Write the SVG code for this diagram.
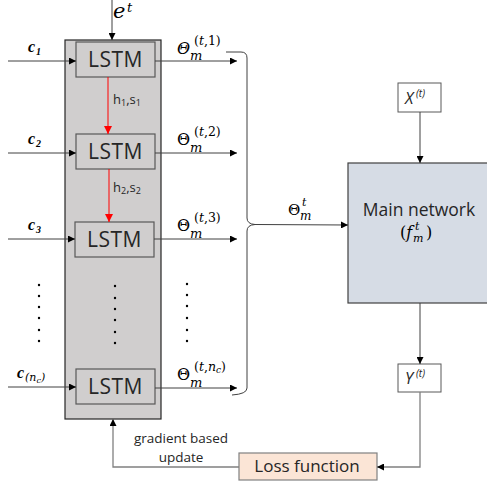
<svg xmlns="http://www.w3.org/2000/svg" width="487" height="484" viewBox="0 0 487 484">
<defs>
<marker id="ah" viewBox="0 0 10 10" refX="10" refY="5" markerWidth="7" markerHeight="7" markerUnits="userSpaceOnUse" orient="auto"><path d="M0,0 L10,5 L0,10 z" fill="#000"/></marker>
<marker id="ahr" viewBox="0 0 10 10" refX="10" refY="5" markerWidth="8" markerHeight="8" markerUnits="userSpaceOnUse" orient="auto"><path d="M0,0 L10,5 L0,10 z" fill="#ff0000"/></marker>
<style>
.ln{stroke:#404040;stroke-width:1;fill:none}
.gl{stroke:#808080;stroke-width:1.3;fill:none}
.red{stroke:#ff0000;stroke-width:1;fill:none}
.lstm{fill:#d0cece;stroke:#595959;stroke-width:1.2}
.lt{font-family:"Open Sans","Liberation Sans",sans-serif;font-size:21px;letter-spacing:0.5px;fill:#262626;text-anchor:middle}
.th{font-family:"DejaVu Serif","Liberation Serif",serif;fill:#000}
.cl{font-family:"Liberation Serif",serif;font-weight:bold;font-style:italic;fill:#000}
.sm{font-family:"Open Sans","Liberation Sans",sans-serif;fill:#262626}
.dot{fill:#000}
</style>
</defs>

<g id="lstm-column">
<rect x="65" y="40" width="96" height="379" fill="#d0cece" stroke="#262626" stroke-width="1.2"/>
</g>

<g id="lstm1"><rect class="lstm" x="76" y="42" width="79" height="35"/><text class="lt" x="115.5" y="67">LSTM</text></g>
<g id="lstm2"><rect class="lstm" x="76" y="134" width="79" height="35"/><text class="lt" x="115.5" y="159">LSTM</text></g>
<g id="lstm3"><rect class="lstm" x="75" y="222" width="79" height="35"/><text class="lt" x="114.5" y="247">LSTM</text></g>
<g id="lstm4"><rect class="lstm" x="76" y="369" width="79" height="35"/><text class="lt" x="115.5" y="394">LSTM</text></g>

<g id="main-network"><rect x="348" y="163" width="142" height="140" fill="#d6dce5" stroke="#404040" stroke-width="1.2"/>
<text class="sm" x="419" y="216" font-size="17.5" text-anchor="middle">Main network</text>
<text class="th" x="400" y="238" font-size="16">(<tspan font-style="italic">f</tspan></text>
<text class="th" x="413" y="242" font-size="11" font-style="italic">m</text>
<text class="th" x="415" y="230" font-size="11" font-style="italic">t</text>
<text class="th" x="426" y="238" font-size="16">)</text>
</g>

<g id="x-input"><rect x="398" y="83" width="43" height="29" fill="#fff" stroke="#595959" stroke-width="1"/>
<text class="sm" x="405" y="104" font-size="16" font-style="italic">X</text><text class="sm" x="416" y="97" font-size="10" font-style="italic">(t)</text></g>

<g id="y-output"><rect x="398" y="364" width="43" height="28" fill="#fff" stroke="#595959" stroke-width="1"/>
<text class="sm" x="405" y="384" font-size="16" font-style="italic">Y</text><text class="sm" x="416" y="377" font-size="10" font-style="italic">(t)</text></g>

<g id="loss-function"><rect x="239" y="453" width="138" height="27" fill="#fbe5d6" stroke="#808080" stroke-width="1.2"/>
<text class="sm" x="307" y="472" font-size="17" text-anchor="middle">Loss function</text></g>

<g id="connectors">
<line class="ln" x1="112" y1="0" x2="112" y2="40" marker-end="url(#ah)"/>
<line class="ln" x1="8" y1="61" x2="76" y2="61" marker-end="url(#ah)"/>
<line class="ln" x1="8" y1="153" x2="76" y2="153" marker-end="url(#ah)"/>
<line class="ln" x1="8" y1="239" x2="75" y2="239" marker-end="url(#ah)"/>
<line class="ln" x1="8" y1="387" x2="76" y2="387" marker-end="url(#ah)"/>
<line class="ln" x1="155" y1="61" x2="237" y2="61" marker-end="url(#ah)"/>
<line class="ln" x1="155" y1="153" x2="237" y2="153" marker-end="url(#ah)"/>
<line class="ln" x1="154" y1="239" x2="237" y2="239" marker-end="url(#ah)"/>
<line class="ln" x1="155" y1="388" x2="237" y2="388" marker-end="url(#ah)"/>
<line class="red" x1="108" y1="77" x2="108" y2="134" marker-end="url(#ahr)"/>
<line class="red" x1="109" y1="169" x2="109" y2="222" marker-end="url(#ahr)"/>
<path class="ln" stroke="#595959" d="M226,52 L241,52 Q247,52 247,58 L247,218 Q247,224 255,224.5 L348,225" marker-end="url(#ah)"/>
<path class="ln" stroke="#595959" d="M255,224.5 Q247,225 247,231 L247,388 Q247,394 232,395"/>
<line class="ln" x1="420" y1="112" x2="420" y2="163" marker-end="url(#ah)"/>
<line class="ln" x1="420" y1="303" x2="420" y2="364" marker-end="url(#ah)"/>
<path class="gl" d="M420,392 L420,467 L377,467" marker-end="url(#ah)"/>
<path class="gl" d="M239,467 L113,467 L113,419" marker-end="url(#ah)"/>
</g>

<g id="labels">
<text class="th" x="113" y="18" font-size="21" font-style="italic">e</text>
<text class="th" x="127" y="12" font-size="13" font-style="italic">t</text>

<text class="cl" x="28" y="52" font-size="16">c</text><text class="cl" x="36" y="55" font-size="10">1</text>
<text class="cl" x="28" y="144" font-size="16">c</text><text class="cl" x="36" y="147" font-size="10">2</text>
<text class="cl" x="28" y="230" font-size="16">c</text><text class="cl" x="36" y="233" font-size="10">3</text>
<text class="cl" x="17" y="378" font-size="16">c</text><text class="th" x="25" y="381" font-size="11" font-style="italic">(n<tspan font-size="8" dy="2">c</tspan><tspan dy="-2">)</tspan></text>

<text class="sm" x="113" y="104" font-size="13">h<tspan font-size="9" dy="2">1</tspan><tspan dy="-2">,s</tspan><tspan font-size="9" dy="2">1</tspan></text>
<text class="sm" x="113" y="192" font-size="13">h<tspan font-size="9" dy="2">2</tspan><tspan dy="-2">,s</tspan><tspan font-size="9" dy="2">2</tspan></text>

<text class="th" x="177" y="54" font-size="16" font-style="italic">Θ</text><text class="th" x="190" y="60" font-size="13" font-style="italic">m</text><text class="th" x="194" y="45" font-size="12.5">(<tspan font-style="italic">t</tspan>,1)</text>
<text class="th" x="177" y="145" font-size="16">Θ</text><text class="th" x="190" y="152" font-size="13" font-style="italic">m</text><text class="th" x="194" y="136" font-size="12.5">(<tspan font-style="italic">t</tspan>,2)</text>
<text class="th" x="177" y="231" font-size="16">Θ</text><text class="th" x="190" y="238" font-size="13" font-style="italic">m</text><text class="th" x="194" y="222" font-size="12.5">(<tspan font-style="italic">t</tspan>,3)</text>
<text class="th" x="177" y="380" font-size="16">Θ</text><text class="th" x="190" y="387" font-size="13" font-style="italic">m</text><text class="th" x="194" y="371" font-size="12.5">(<tspan font-style="italic">t</tspan>,<tspan font-style="italic">n</tspan><tspan font-size="9" font-style="italic" dy="2">c</tspan><tspan dy="-2">)</tspan></text>

<text class="th" x="288" y="215" font-size="15">Θ</text><text class="th" x="300" y="220" font-size="12" font-style="italic">m</text><text class="th" x="302" y="206" font-size="11" font-style="italic">t</text>

<text class="sm" x="181" y="443" font-size="13.5" text-anchor="middle">gradient based</text>
<text class="sm" x="181" y="462" font-size="13.5" text-anchor="middle">update</text>
</g>

<g id="dots">
<circle class="dot" cx="39" cy="285" r="1.2"/><circle class="dot" cx="39" cy="296" r="1.2"/><circle class="dot" cx="39" cy="307" r="1.2"/><circle class="dot" cx="39" cy="318" r="1.2"/><circle class="dot" cx="39" cy="330" r="1.2"/><circle class="dot" cx="39" cy="341" r="1.2"/>
<circle class="dot" cx="115" cy="286" r="1.2"/><circle class="dot" cx="115" cy="298" r="1.2"/><circle class="dot" cx="115" cy="309" r="1.2"/><circle class="dot" cx="115" cy="320" r="1.2"/><circle class="dot" cx="115" cy="332" r="1.2"/><circle class="dot" cx="115" cy="343" r="1.2"/>
<circle class="dot" cx="187" cy="284" r="1.2"/><circle class="dot" cx="187" cy="295" r="1.2"/><circle class="dot" cx="187" cy="306" r="1.2"/><circle class="dot" cx="187" cy="318" r="1.2"/><circle class="dot" cx="187" cy="330" r="1.2"/><circle class="dot" cx="187" cy="341" r="1.2"/>
</g>
</svg>
